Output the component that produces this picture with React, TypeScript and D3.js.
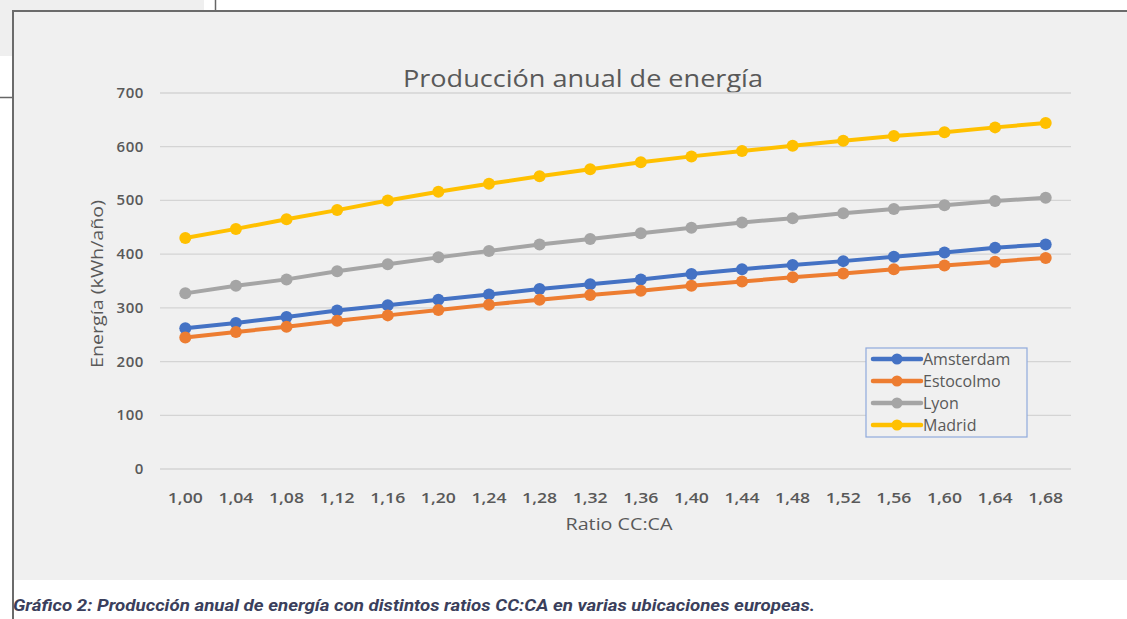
import React from "react";
import * as d3 from "d3";

const categories = ["1,00","1,04","1,08","1,12","1,16","1,20","1,24","1,28","1,32","1,36","1,40","1,44","1,48","1,52","1,56","1,60","1,64","1,68"];
const amsterdam = [262,272,283,295,305,315,325,335,344,353,363,372,380,387,395,403,412,418];
const estocolmo = [245,255,265,276,286,296,306,315,324,332,341,349,357,364,372,379,386,393];
const lyon = [327,341,353,368,381,394,406,418,428,439,449,459,467,476,484,491,499,505];
const madrid = [430,447,465,482,500,516,531,545,558,571,582,592,602,611,620,627,636,644];
const yTicks = [0,100,200,300,400,500,600,700];

const seriesNames = ["Amsterdam","Estocolmo","Lyon","Madrid"];
const seriesData = [amsterdam, estocolmo, lyon, madrid];
const seriesColors = ["#4472C4","#ED7D31","#A5A5A5","#FFC000"];

const W = 1127, H = 619;
const plotLeft = 160, plotRight = 1071, plotTop = 93, plotBottom = 469;

export default function App() {
  const x = d3.scaleBand<string>().domain(categories).range([plotLeft, plotRight]);
  const y = d3.scaleLinear().domain([0, 700]).range([plotBottom, plotTop]);
  const cx = (c: string) => (x(c) as number) + x.bandwidth() / 2;
  const line = d3.line<number>().x((_, i) => cx(categories[i])).y((d) => y(d));
  const txt = "#595959";
  const font = "'Open Sans', 'DejaVu Sans', sans-serif";
  const legendX = 866, legendY = 348;
  return (
    <div style={{ position: "absolute", left: 0, top: 0, width: W, height: H, background: "#fff", overflow: "hidden" }}>
      <svg width={W} height={H} style={{ display: "block" }}>
        <rect x={0} y={0} width={W} height={H} fill="#ffffff" />
        {/* page fragments */}
        <rect x={0} y={0} width={204} height={56} fill="#efefef" />
        <line x1={215.5} y1={0} x2={215.5} y2={11} stroke="#666" strokeWidth={1.5} />
        <line x1={0} y1={97.5} x2={13} y2={97.5} stroke="#666" strokeWidth={1.5} />
        {/* chart box */}
        <rect x={13} y={11} width={W - 13} height={569} fill="#f0f0f0" />
        <line x1={12} y1={11} x2={W} y2={11} stroke="#6b6b6b" strokeWidth={2} />
        <line x1={13} y1={10} x2={13} y2={H} stroke="#6b6b6b" strokeWidth={2} />
        {/* title */}
        <text x={583} y={87} textAnchor="middle" fontFamily={font} fontSize={24} fill={txt} textLength={360} lengthAdjust="spacingAndGlyphs">Producción anual de energía</text>
        {/* gridlines */}
        {yTicks.map((t) => (
          <g key={t}>
            <line x1={plotLeft} x2={plotRight} y1={y(t)} y2={y(t)} stroke="#d4d4d4" strokeWidth={1.3} />
            <text x={144} y={y(t) + 5} textAnchor="end" fontFamily={font} fontSize={15} fontWeight={600} fill={txt} letterSpacing={0.6}>{t}</text>
          </g>
        ))}
        {/* x ticks */}
        {categories.map((c) => (
          <text key={c} x={cx(c)} y={503} textAnchor="middle" fontFamily={font} fontSize={15} fontWeight={600} fill={txt} textLength={35} lengthAdjust="spacingAndGlyphs">{c}</text>
        ))}
        <text x={619} y={530} textAnchor="middle" fontFamily={font} fontSize={17} fill={txt} textLength={107} lengthAdjust="spacingAndGlyphs">Ratio CC:CA</text>
        <text transform={`translate(103,${(plotTop + plotBottom) / 2 + 3}) rotate(-90)`} textAnchor="middle" fontFamily={font} fontSize={17} fill={txt} textLength={168} lengthAdjust="spacingAndGlyphs">Energía (kWh/año)</text>
        {/* series */}
        {seriesData.map((s, k) => (
          <g key={seriesNames[k]}>
            <path d={line(s) || ""} fill="none" stroke={seriesColors[k]} strokeWidth={4} strokeLinejoin="round" />
            {s.map((v, i) => (
              <circle key={i} cx={cx(categories[i])} cy={y(v)} r={6} fill={seriesColors[k]} />
            ))}
          </g>
        ))}
        {/* legend */}
        <rect x={legendX} y={legendY} width={161} height={89} fill="#f0f0f0" stroke="#8faadc" strokeWidth={1.2} />
        {seriesNames.map((n, k) => {
          const ly = legendY + 11 + k * 22;
          return (
            <g key={n}>
              <line x1={873} x2={921} y1={ly} y2={ly} stroke={seriesColors[k]} strokeWidth={4.5} strokeLinecap="round" />
              <circle cx={897} cy={ly} r={5.5} fill={seriesColors[k]} />
              <text x={923} y={ly + 6} fontFamily={font} fontSize={16} fill={txt}>{n}</text>
            </g>
          );
        })}
        {/* caption */}
        <text x={13} y={611} fontFamily="'Liberation Sans Narrow', 'Roboto', sans-serif" fontSize={17} fontWeight={700} fontStyle="italic" fill="#3b3f5c" textLength={802} lengthAdjust="spacingAndGlyphs">Gráfico 2: Producción anual de energía con distintos ratios CC:CA en varias ubicaciones europeas.</text>
      </svg>
    </div>
  );
}
